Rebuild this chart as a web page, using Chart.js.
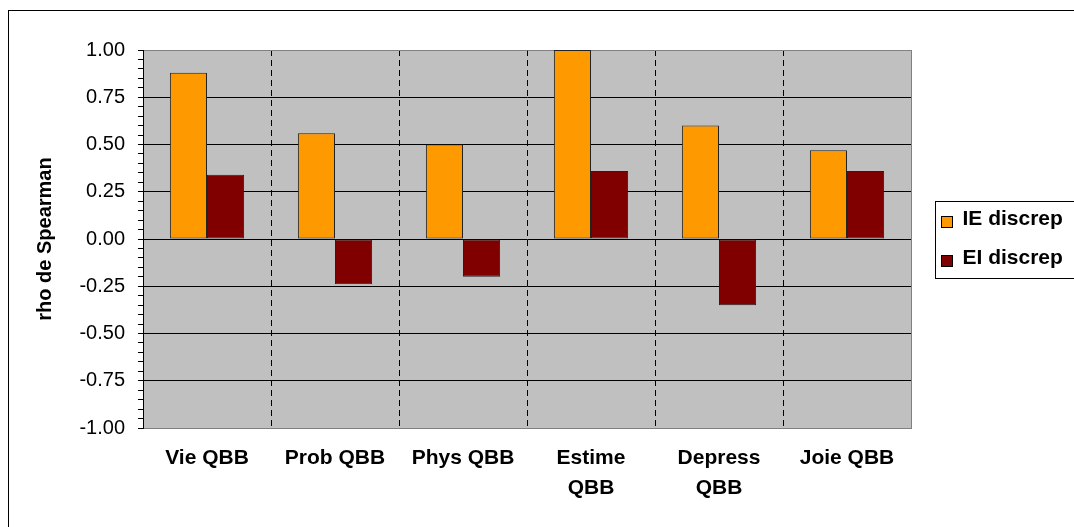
<!DOCTYPE html>
<html>
<head>
<meta charset="utf-8">
<script src="https://cdn.jsdelivr.net/npm/chart.js@4"></script>
<style>
  html, body { margin: 0; padding: 0; background: #fff; overflow: hidden; }
  #frame { position: absolute; left: 8px; top: 10px; width: 2000px; height: 2000px; border: 1px solid #000; }
  #c { position: absolute; left: 0; top: 0; }
</style>
</head>
<body>
<div id="frame"></div>
<canvas id="c" width="1074" height="527"></canvas>
<script>
const categories = ['Vie QBB', 'Prob QBB', 'Phys QBB', ['Estime', 'QBB'], ['Depress', 'QBB'], 'Joie QBB'];
const ieDiscrep = [0.88, 0.56, 0.50, 1.00, 0.60, 0.47];
const eiDiscrep = [0.34, -0.24, -0.20, 0.36, -0.35, 0.36];
const seriesNames = ['IE discrep', 'EI discrep'];

const FONT = "'Liberation Sans', Arial, sans-serif";

// grey plot area with a darker outline, like the Excel original
const plotBackground = {
  id: 'plotBackground',
  beforeDraw(chart) {
    const { ctx, chartArea: a } = chart;
    ctx.save();
    ctx.fillStyle = '#C0C0C0';
    ctx.fillRect(a.left, a.top, a.right - a.left, a.bottom - a.top);
    ctx.strokeStyle = '#808080';
    ctx.lineWidth = 1;
    ctx.strokeRect(a.left + 0.5, a.top + 0.5, a.right - a.left, a.bottom - a.top);
    ctx.restore();
  }
};

// boxed legend to the right of the plot
const boxLegend = {
  id: 'boxLegend',
  afterDraw(chart) {
    const { ctx, chartArea: a } = chart;
    const left = Math.round(a.right + 24) + 0.5;
    const h = 77;
    const top = Math.round((a.top + a.bottom) / 2 - h / 2) + 0.5;
    ctx.save();
    ctx.strokeStyle = '#000';
    ctx.lineWidth = 1;
    ctx.strokeRect(left, top, 400, h);
    ctx.font = 'bold 21px ' + FONT;
    ctx.textBaseline = 'middle';
    chart.data.datasets.forEach((ds, i) => {
      const cy = top + 20 + i * 39;
      ctx.fillStyle = ds.backgroundColor;
      ctx.fillRect(left + 6, cy - 5, 11, 11);
      ctx.strokeRect(left + 6, cy - 5, 11, 11);
      ctx.fillStyle = '#000';
      ctx.fillText(ds.label, left + 27, cy - 2);
    });
    ctx.restore();
  }
};

const isMajor = v => Math.round(v * 100) % 25 === 0;

const config = {
  type: 'bar',
  data: {
    labels: categories,
    datasets: [{
      label: seriesNames[0],
      data: ieDiscrep,
      backgroundColor: '#FF9900',
      borderColor: '#222',
      borderWidth: 1,
      borderSkipped: false
    }, {
      label: seriesNames[1],
      data: eiDiscrep,
      backgroundColor: '#800000',
      borderColor: '#222',
      borderWidth: 1,
      borderSkipped: false
    }]
  },
  options: {
    responsive: false,
    animation: false,
    devicePixelRatio: 1,
    layout: { padding: { top: 50, right: 163, bottom: 0, left: 0 } },
    datasets: { bar: { categoryPercentage: 0.58, barPercentage: 1 } },
    plugins: {
      legend: { display: false },
      tooltip: { enabled: false }
    },
    scales: {
      x: {
        offset: true,
        grid: {
          offset: true,
          drawTicks: false,
          // no dashed line on the left/right edges of the plot
          color: c => (c.type !== 'tick' || c.index === 0) ? 'transparent' : '#000',
          lineWidth: 1
        },
        // in v4 the grid line dash comes from the border options
        border: { display: false, dash: [6, 4] },
        ticks: {
          color: '#000',
          padding: 16,
          maxRotation: 0,
          autoSkip: false,
          font: { family: FONT, size: 21, weight: 'bold', lineHeight: 1.4 }
        },
        afterFit(scale) { scale.height = 99; }
      },
      y: {
        min: -1,
        max: 1,
        grid: {
          color: c => {
            const v = c.tick ? c.tick.value : 0;
            if (!isMajor(v)) return 'transparent';
            if (Math.abs(v) > 0.99) return '#808080';
            return '#000';
          },
          tickColor: '#000',
          tickLength: 5,
          lineWidth: 1
        },
        border: { color: '#000', width: 1 },
        ticks: {
          stepSize: 0.05,
          maxTicksLimit: 100,
          autoSkip: false,
          padding: 13,
          color: '#000',
          font: { family: FONT, size: 20 },
          callback: v => isMajor(v) ? (Math.round(v * 100) / 100).toFixed(2) : ''
        },
        title: {
          display: true,
          text: 'rho de Spearman',
          color: '#000',
          padding: { top: 33, bottom: 0 },
          font: { family: FONT, size: 20, weight: 'bold', lineHeight: 1.2 }
        },
        afterFit(scale) { scale.width = 143; }
      }
    }
  },
  plugins: [plotBackground, boxLegend]
};

const chart = new Chart(document.getElementById('c'), config);
</script>
</body>
</html>
